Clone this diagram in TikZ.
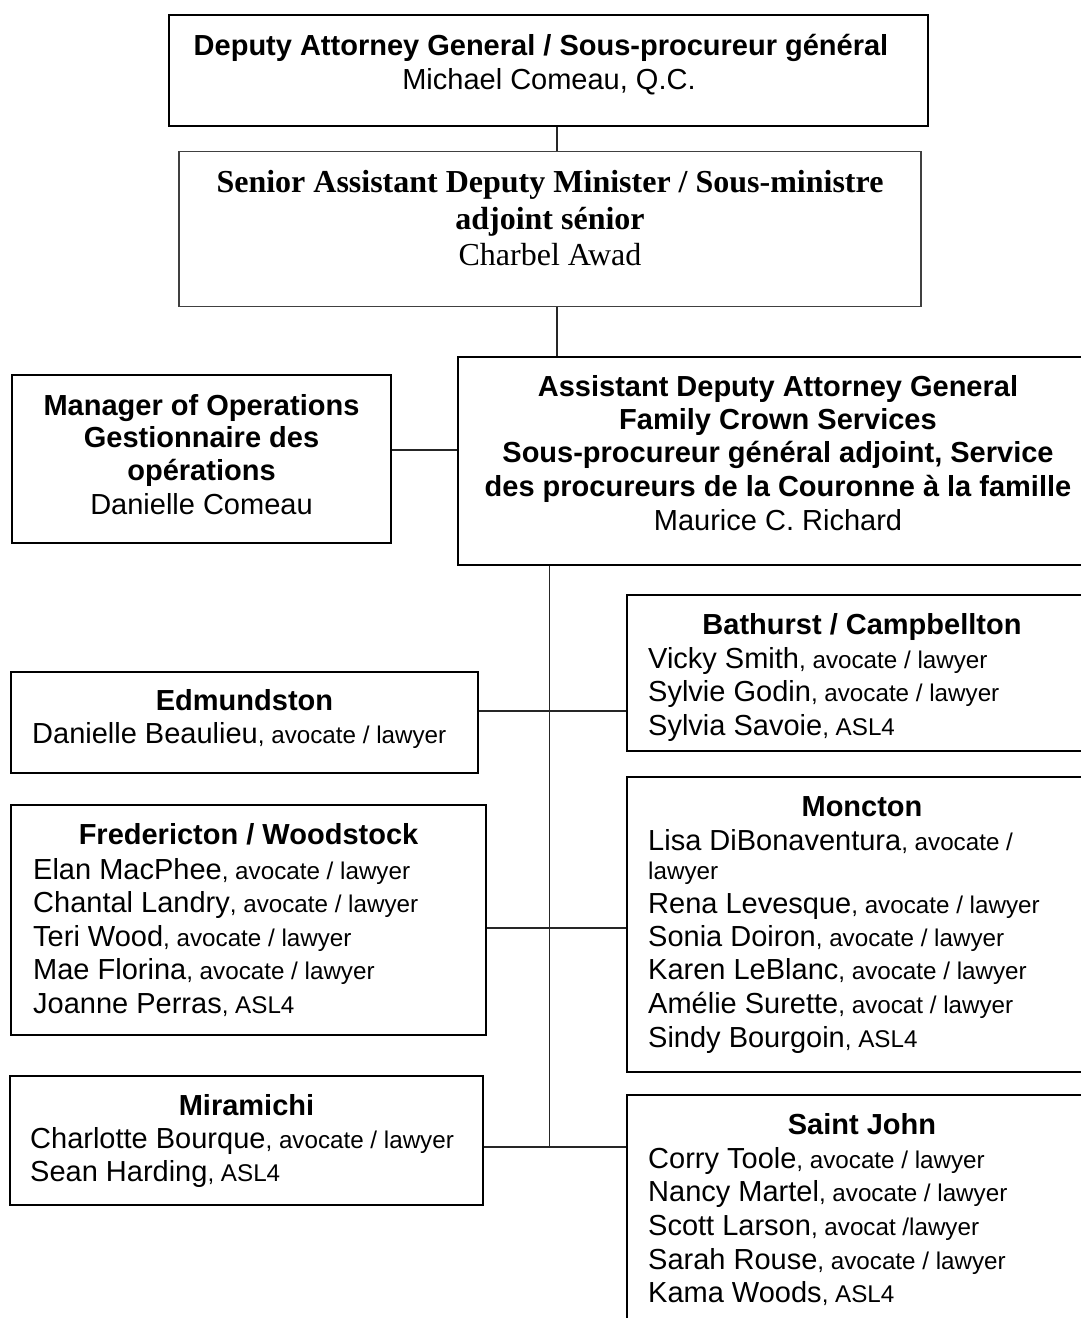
\documentclass[tikz,border=0pt]{standalone}
\usepackage{fontspec}
\setmainfont{Liberation Sans}
\newfontfamily\tnr{Liberation Serif}
\newcommand\rolefont{\fontsize{24.2}{28}\selectfont}
\newcommand\role[1]{{\rolefont #1}}
\tikzset{
  box/.style={draw, inner sep=0pt, line width=2pt},
  thickbox/.style={box, line width=2.6pt},
  thinbox/.style={draw=black!75, inner sep=0pt, line width=1.1pt},
  conn/.style={line width=1.2pt, draw=black!85},
  hd/.style={anchor=base, inner sep=0pt, font=\fontsize{29}{33.5}\selectfont\bfseries},
  ctr/.style={anchor=base, inner sep=0pt, font=\fontsize{29}{33.5}\selectfont},
  nm/.style={anchor=base west, inner sep=0pt, font=\fontsize{29}{33.5}\selectfont},
  tbf/.style={anchor=base, inner sep=0pt, font=\tnr\fontsize{32}{36.5}\selectfont\bfseries},
  trm/.style={anchor=base, inner sep=0pt, font=\tnr\fontsize{32}{36.5}\selectfont},
}
\begin{document}
\begin{tikzpicture}[x=1pt, y=-1pt]
\useasboundingbox[fill=white] (0,0) rectangle (1081,1318);

% ---------- boxes ----------
\node[thickbox, minimum width=759pt, minimum height=111pt] (top) at (548.5,70.5) {};
\node[thinbox, minimum width=742pt, minimum height=154.5pt] (sadm) at (550,229) {};
\node[thickbox, minimum width=639pt, minimum height=208pt] (adag) at (777.5,461) {};
\node[box, minimum width=379pt, minimum height=168pt] (mgr) at (201.5,459) {};
\node[box, minimum width=470pt, minimum height=156pt] (bath) at (862,673) {};
\node[box, line width=1.6pt, minimum width=467pt, minimum height=101pt] (edm) at (244.5,722.5) {};
\node[box, minimum width=470pt, minimum height=294.5pt] (mon) at (862,924.25) {};
\node[box, minimum width=475pt, minimum height=230pt] (fred) at (248.5,920) {};
\node[box, minimum width=473pt, minimum height=129pt] (mir) at (246.5,1140.5) {};
\node[box, minimum width=470pt, minimum height=235pt] (sj) at (862,1212.5) {};

% ---------- connectors ----------
\coordinate (xa) at (557,0);
\coordinate (xt) at (549.5,0);
\coordinate (ym) at (0,450);
\coordinate (y1) at (0,711);
\coordinate (y2) at (0,928);
\coordinate (y3) at (0,1147);
\coordinate (tb) at (549.5,1147);
\draw[conn] (top.south -| xa) -- (sadm.north -| xa);
\draw[conn] (sadm.south -| xa) -- (adag.north -| xa);
\draw[conn] (mgr.east |- ym) -- (adag.west |- ym);
\draw[conn] (adag.south -| xt) -- (tb);
\draw[conn] (edm.east |- y1) -- (bath.west |- y1);
\draw[conn] (fred.east |- y2) -- (mon.west |- y2);
\draw[conn] (mir.east |- y3) -- (sj.west |- y3);

% ---------- top ----------
\node[hd] (top-t) at (541,55) {Deputy Attorney General / Sous-procureur général};
\node[ctr] (top-n) at (549,89) {Michael Comeau, Q.C.};

% ---------- senior ADM ----------
\node[tbf] (sadm-t1) at (550,192) {Senior Assistant Deputy Minister / Sous-ministre};
\node[tbf] (sadm-t2) at (550,229) {adjoint sénior};
\node[trm] (sadm-n) at (550,265) {Charbel Awad};

% ---------- manager ----------
\node[hd] (mgr-t1) at (201.5,415) {Manager of Operations};
\node[hd] (mgr-t2) at (201.5,447.5) {Gestionnaire des};
\node[hd] (mgr-t3) at (201.5,480.5) {opérations};
\node[ctr] (mgr-n) at (201.5,514.5) {Danielle Comeau};

% ---------- ADAG ----------
\node[hd] (adag-t1) at (778,396) {Assistant Deputy Attorney General};
\node[hd] (adag-t2) at (778,429) {Family Crown Services};
\node[hd] (adag-t3) at (778,462.5) {Sous-procureur général adjoint, Service};
\node[hd] (adag-t4) at (778,496) {des procureurs de la Couronne à la famille};
\node[ctr] (adag-n) at (778,530) {Maurice C. Richard};

% ---------- Bathurst ----------
\node[hd] (bath-h) at (862,634) {Bathurst / Campbellton};
\node[nm] (bath-1) at (648,668) {Vicky Smith\role{, avocate / lawyer}};
\node[nm] (bath-2) at (648,701.5) {Sylvie Godin\role{, avocate / lawyer}};
\node[nm] (bath-3) at (648,735) {Sylvia Savoie\role{, ASL4}};

% ---------- Edmundston ----------
\node[hd] (edm-h) at (244.5,710) {Edmundston};
\node[nm] (edm-1) at (32,743) {Danielle Beaulieu\role{, avocate / lawyer}};

% ---------- Moncton ----------
\node[hd] (mon-h) at (862,816.5) {Moncton};
\node[nm] (mon-1) at (648,850) {Lisa DiBonaventura\role{, avocate /}};
\node[nm, font=\rolefont] (mon-1b) at (648,879.5) {lawyer};
\node[nm] (mon-2) at (648,913) {Rena Levesque\role{, avocate / lawyer}};
\node[nm] (mon-3) at (648,946) {Sonia Doiron\role{, avocate / lawyer}};
\node[nm] (mon-4) at (648,979.5) {Karen LeBlanc\role{, avocate / lawyer}};
\node[nm] (mon-5) at (648,1013) {Amélie Surette\role{, avocat / lawyer}};
\node[nm] (mon-6) at (648,1047) {Sindy Bourgoin\role{, ASL4}};

% ---------- Fredericton ----------
\node[hd] (fred-h) at (248.5,844.5) {Fredericton / Woodstock};
\node[nm] (fred-1) at (33,879) {Elan MacPhee\role{, avocate / lawyer}};
\node[nm] (fred-2) at (33,912.5) {Chantal Landry\role{, avocate / lawyer}};
\node[nm] (fred-3) at (33,946) {Teri Wood\role{, avocate / lawyer}};
\node[nm] (fred-4) at (33,979.5) {Mae Florina\role{, avocate / lawyer}};
\node[nm] (fred-5) at (33,1013) {Joanne Perras\role{, ASL4}};

% ---------- Miramichi ----------
\node[hd] (mir-h) at (246.5,1115) {Miramichi};
\node[nm] (mir-1) at (30,1148.5) {Charlotte Bourque\role{, avocate / lawyer}};
\node[nm] (mir-2) at (30,1181.5) {Sean Harding\role{, ASL4}};

% ---------- Saint John ----------
\node[hd] (sj-h) at (862,1134) {Saint John};
\node[nm] (sj-1) at (648,1168) {Corry Toole\role{, avocate / lawyer}};
\node[nm] (sj-2) at (648,1201.5) {Nancy Martel\role{, avocate / lawyer}};
\node[nm] (sj-3) at (648,1235) {Scott Larson\role{, avocat /lawyer}};
\node[nm] (sj-4) at (648,1269) {Sarah Rouse\role{, avocate / lawyer}};
\node[nm] (sj-5) at (648,1302.5) {Kama Woods\role{, ASL4}};
\end{tikzpicture}
\end{document}
